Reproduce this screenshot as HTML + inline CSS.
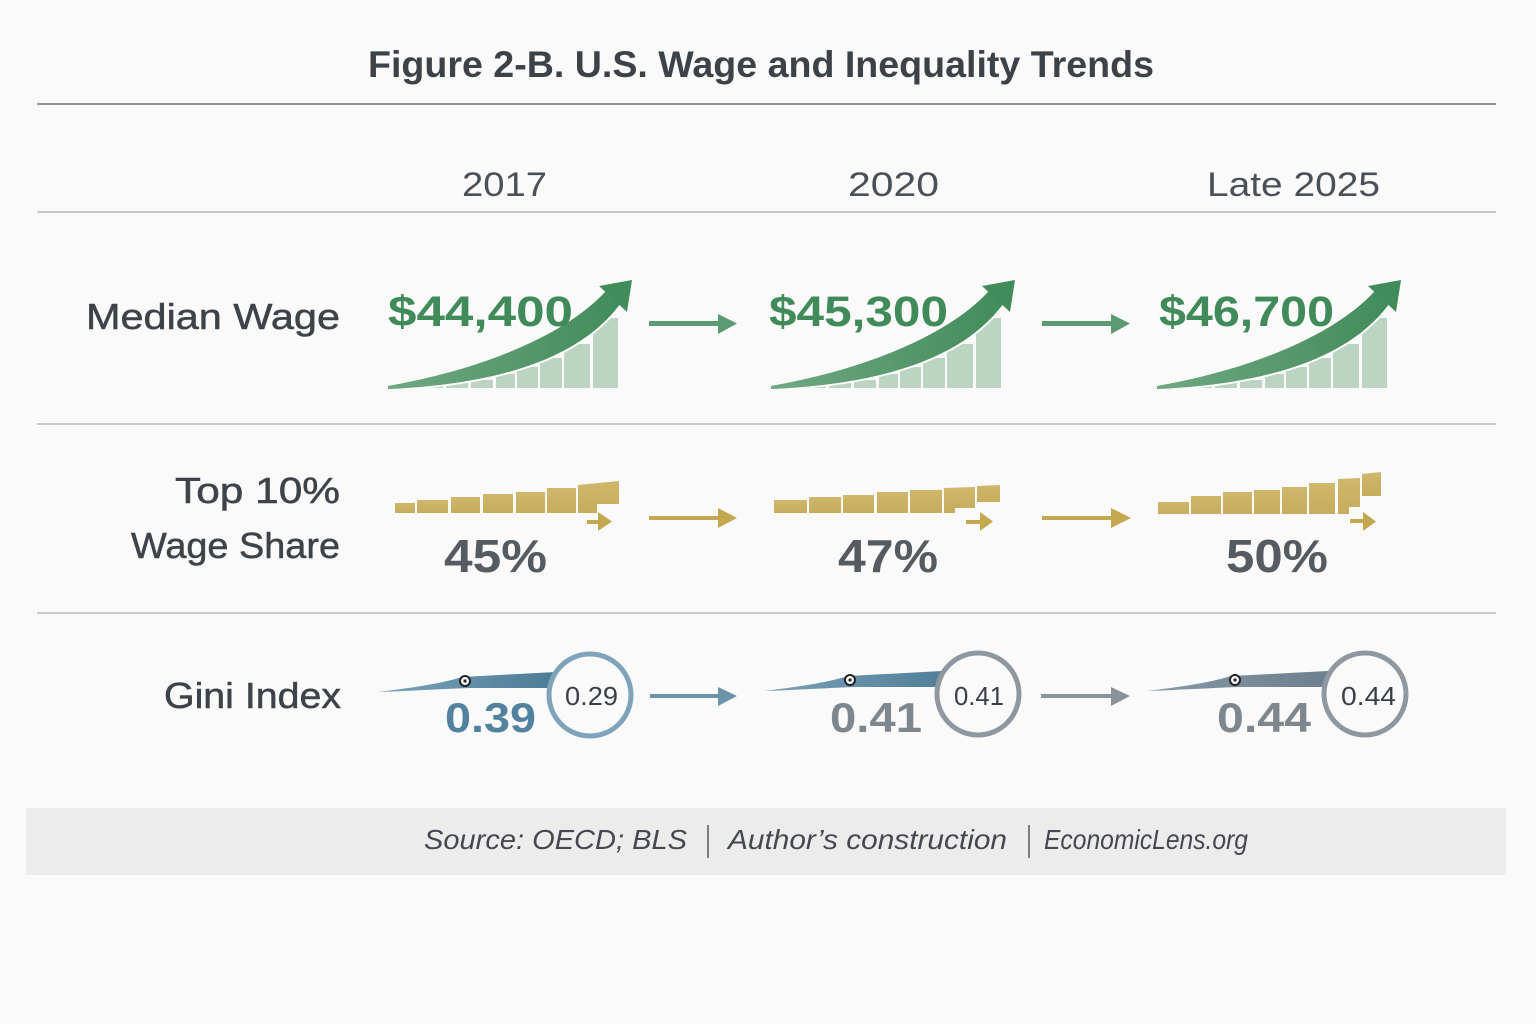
<!DOCTYPE html>
<html><head><meta charset="utf-8"><style>
html,body{margin:0;padding:0;background:#fafafa;}
svg{display:block;}
text{font-family:"Liberation Sans","DejaVu Sans",sans-serif;}
</style></head><body>
<svg width="1536" height="1024" viewBox="0 0 1536 1024" xmlns="http://www.w3.org/2000/svg">
<defs>
<linearGradient id="gsw" x1="0" y1="0" x2="1" y2="0"><stop offset="0" stop-color="#6fa881"/><stop offset="0.6" stop-color="#55976a"/><stop offset="1" stop-color="#428c5b"/></linearGradient>
<linearGradient id="gold" x1="0" y1="0" x2="0" y2="1"><stop offset="0" stop-color="#cfb76c"/><stop offset="1" stop-color="#c6ac5c"/></linearGradient>
<linearGradient id="sp1" x1="0" y1="0" x2="1" y2="0"><stop offset="0" stop-color="#7aa3ba"/><stop offset="1" stop-color="#4c7b96"/></linearGradient>
<linearGradient id="sp2" x1="0" y1="0" x2="1" y2="0"><stop offset="0" stop-color="#7aa1b7"/><stop offset="1" stop-color="#517f99"/></linearGradient>
<linearGradient id="sp3" x1="0" y1="0" x2="1" y2="0"><stop offset="0" stop-color="#8799a6"/><stop offset="1" stop-color="#6c808f"/></linearGradient>
<g id="green">
  <g fill="#bcd4c2">
    <rect x="390" y="386" width="24" height="2"/>
    <rect x="416" y="385" width="27" height="3"/>
    <rect x="446" y="382" width="22" height="6"/>
    <rect x="471" y="380" width="22" height="8"/>
    <rect x="496" y="374" width="19" height="14"/>
    <rect x="517" y="367" width="21" height="21"/>
    <rect x="540" y="358" width="22" height="30"/>
    <rect x="564" y="344" width="26" height="44"/>
    <rect x="593" y="318" width="25" height="70"/>
  </g>
  <path d="M388,389 C500,384 580,358 620,304 L606,291 C565,336 480,370 388,386 Z" fill="url(#gsw)" stroke="#fafafa" stroke-width="4" paint-order="stroke"/>
  <path d="M388,389 C500,384 580,358 620,304 L606,291 C565,336 480,370 388,386 Z" fill="url(#gsw)"/>
  <path d="M599,286 L632,280 L627,312 Z" fill="#428c5b"/>
</g>
</defs>

<rect width="1536" height="1024" fill="#fafafa"/>

<!-- Title -->
<text x="368" y="77" font-size="37" font-weight="bold" fill="#3d4248" textLength="786" lengthAdjust="spacingAndGlyphs">Figure 2-B. U.S. Wage and Inequality Trends</text>
<line x1="37" y1="104" x2="1496" y2="104" stroke="#8d939a" stroke-width="2"/>

<!-- Headers -->
<text x="462" y="196" font-size="34" fill="#4b5056" textLength="85" lengthAdjust="spacingAndGlyphs">2017</text>
<text x="848" y="196" font-size="34" fill="#4b5056" textLength="91" lengthAdjust="spacingAndGlyphs">2020</text>
<text x="1207" y="196" font-size="34" fill="#4b5056" textLength="173" lengthAdjust="spacingAndGlyphs">Late 2025</text>
<line x1="37" y1="212" x2="1496" y2="212" stroke="#c3c7cb" stroke-width="2"/>

<!-- Row labels -->
<text x="86" y="329" font-size="36" fill="#3e4349" stroke="#3e4349" stroke-width="0.5" textLength="254" lengthAdjust="spacingAndGlyphs">Median Wage</text>
<text x="175" y="503" font-size="36" fill="#3e4349" stroke="#3e4349" stroke-width="0.5" textLength="165" lengthAdjust="spacingAndGlyphs">Top 10%</text>
<text x="131" y="558" font-size="36" fill="#3e4349" stroke="#3e4349" stroke-width="0.5" textLength="209" lengthAdjust="spacingAndGlyphs">Wage Share</text>
<text x="164" y="708" font-size="36" fill="#3e4349" stroke="#3e4349" stroke-width="0.5" textLength="177" lengthAdjust="spacingAndGlyphs">Gini Index</text>

<line x1="37" y1="424" x2="1496" y2="424" stroke="#c8cbcf" stroke-width="2"/>
<line x1="37" y1="613" x2="1496" y2="613" stroke="#c8cbcf" stroke-width="2"/>

<!-- Median wage row -->
<use href="#green"/>
<use href="#green" transform="translate(383,0)"/>
<use href="#green" transform="translate(769,0)"/>
<text x="388" y="326" font-size="43" font-weight="bold" fill="#408b59" textLength="185" lengthAdjust="spacingAndGlyphs">$44,400</text>
<text x="769" y="326" font-size="43" font-weight="bold" fill="#408b59" textLength="179" lengthAdjust="spacingAndGlyphs">$45,300</text>
<text x="1159" y="326" font-size="43" font-weight="bold" fill="#408b59" textLength="175" lengthAdjust="spacingAndGlyphs">$46,700</text>
<g fill="#5c9b72">
  <rect x="649" y="321" width="70" height="5"/><path d="M718,314 L737,323.5 L718,334 Z"/>
  <rect x="1042" y="321" width="70" height="5"/><path d="M1111,314 L1130,323.5 L1111,334 Z"/>
</g>

<!-- Top 10% row -->
<g fill="url(#gold)">
  <rect x="395" y="503" width="20" height="10"/>
  <rect x="417" y="500" width="31" height="13"/>
  <rect x="451" y="497" width="29" height="16"/>
  <rect x="483" y="494" width="30" height="19"/>
  <rect x="516" y="492" width="29" height="21"/>
  <rect x="547" y="488" width="29" height="25"/>
  <path d="M578,485 L619,481 L619,504 L597,504 L597,513 L578,513 Z"/>
  <rect x="774" y="500" width="33" height="13"/>
  <rect x="809" y="497" width="32" height="16"/>
  <rect x="843" y="495" width="31" height="18"/>
  <rect x="877" y="492" width="31" height="21"/>
  <rect x="910" y="490" width="32" height="23"/>
  <path d="M944,488 L975,487 L975,508 L955,508 L955,513 L944,513 Z"/>
  <path d="M977,486 L1000,485 L1000,502 L977,502 Z"/>
  <rect x="1158" y="502" width="31" height="12"/>
  <rect x="1191" y="496" width="30" height="18"/>
  <rect x="1223" y="492" width="29" height="22"/>
  <rect x="1254" y="490" width="26" height="24"/>
  <rect x="1282" y="487" width="25" height="27"/>
  <rect x="1309" y="483" width="26" height="31"/>
  <path d="M1338,479 L1360,478 L1360,507 L1349,507 L1349,514 L1338,514 Z"/>
  <path d="M1362,474 L1381,472 L1381,496 L1362,496 Z"/>
</g>
<g fill="#c4a84f">
  <rect x="587" y="520" width="12" height="4"/><path d="M598,512 L612,521.5 L598,531 Z"/>
  <rect x="966" y="520" width="15" height="4"/><path d="M980,512 L993,521.5 L980,531 Z"/>
  <rect x="1350" y="519" width="14" height="4"/><path d="M1363,512 L1376,521.5 L1363,531 Z"/>
  <rect x="649" y="516" width="70" height="4"/><path d="M718,508 L737,518 L718,528 Z"/>
  <rect x="1042" y="516" width="70" height="4"/><path d="M1111,508 L1131,518 L1111,528 Z"/>
</g>
<text x="444" y="572" font-size="46" font-weight="bold" fill="#555b61" textLength="103" lengthAdjust="spacingAndGlyphs">45%</text>
<text x="838" y="572" font-size="46" font-weight="bold" fill="#555b61" textLength="100" lengthAdjust="spacingAndGlyphs">47%</text>
<text x="1226" y="572" font-size="46" font-weight="bold" fill="#555b61" textLength="102" lengthAdjust="spacingAndGlyphs">50%</text>

<!-- Gini row -->
<path d="M378,692 C410,688 440,684 462,677 L556,672 L556,688 L470,688 C440,689 410,691 378,692 Z" fill="url(#sp1)"/>
<path d="M764,691 C796,687 826,683 848,676 L942,671 L942,687 L856,687 C826,688 796,690 764,691 Z" fill="url(#sp2)"/>
<path d="M1147,691 C1179,687 1209,683 1231,676 L1328,671 L1328,687 L1239,687 C1209,688 1179,690 1147,691 Z" fill="url(#sp3)"/>
<g stroke="#222" stroke-width="2" fill="#fff">
  <circle cx="465" cy="681" r="5"/><circle cx="850" cy="680" r="5"/><circle cx="1235" cy="680" r="5"/>
</g>
<g fill="#222">
  <circle cx="465" cy="681" r="1.6"/><circle cx="850" cy="680" r="1.6"/><circle cx="1235" cy="680" r="1.6"/>
</g>
<circle cx="590" cy="695" r="41" fill="#fafafa" stroke="#7fa4b9" stroke-width="5"/>
<circle cx="978" cy="694" r="41" fill="#fafafa" stroke="#8f979f" stroke-width="5"/>
<circle cx="1365" cy="694" r="41" fill="#fafafa" stroke="#8f979f" stroke-width="5"/>
<text x="565" y="705" font-size="26" fill="#3a3f45" textLength="53" lengthAdjust="spacingAndGlyphs">0.29</text>
<text x="954" y="705" font-size="26" fill="#3a3f45" textLength="50" lengthAdjust="spacingAndGlyphs">0.41</text>
<text x="1341" y="705" font-size="26" fill="#3a3f45" textLength="55" lengthAdjust="spacingAndGlyphs">0.44</text>
<text x="445" y="732" font-size="42" font-weight="bold" fill="#52829d" textLength="91" lengthAdjust="spacingAndGlyphs">0.39</text>
<text x="830" y="732" font-size="42" font-weight="bold" fill="#7e868e" textLength="92" lengthAdjust="spacingAndGlyphs">0.41</text>
<text x="1217" y="732" font-size="42" font-weight="bold" fill="#7e868e" textLength="94" lengthAdjust="spacingAndGlyphs">0.44</text>
<g fill="#6b93aa"><rect x="650" y="694" width="69" height="4"/><path d="M718,687 L737,696 L718,706 Z"/></g>
<g fill="#8a929a"><rect x="1041" y="694" width="71" height="4"/><path d="M1111,687 L1130,696 L1111,706 Z"/></g>

<!-- Footer -->
<rect x="26" y="808" width="1480" height="67" fill="#ececed"/>
<text x="424" y="849" font-size="28" font-style="italic" fill="#45494f" textLength="263" lengthAdjust="spacingAndGlyphs">Source: OECD; BLS</text>
<line x1="708" y1="825" x2="708" y2="858" stroke="#55595f" stroke-width="1.5"/>
<text x="728" y="849" font-size="28" font-style="italic" fill="#45494f" textLength="279" lengthAdjust="spacingAndGlyphs">Author’s construction</text>
<line x1="1029" y1="825" x2="1029" y2="858" stroke="#55595f" stroke-width="1.5"/>
<text x="1044" y="849" font-size="28" font-style="italic" fill="#45494f" textLength="204" lengthAdjust="spacingAndGlyphs">EconomicLens.org</text>
</svg>
</body></html>
